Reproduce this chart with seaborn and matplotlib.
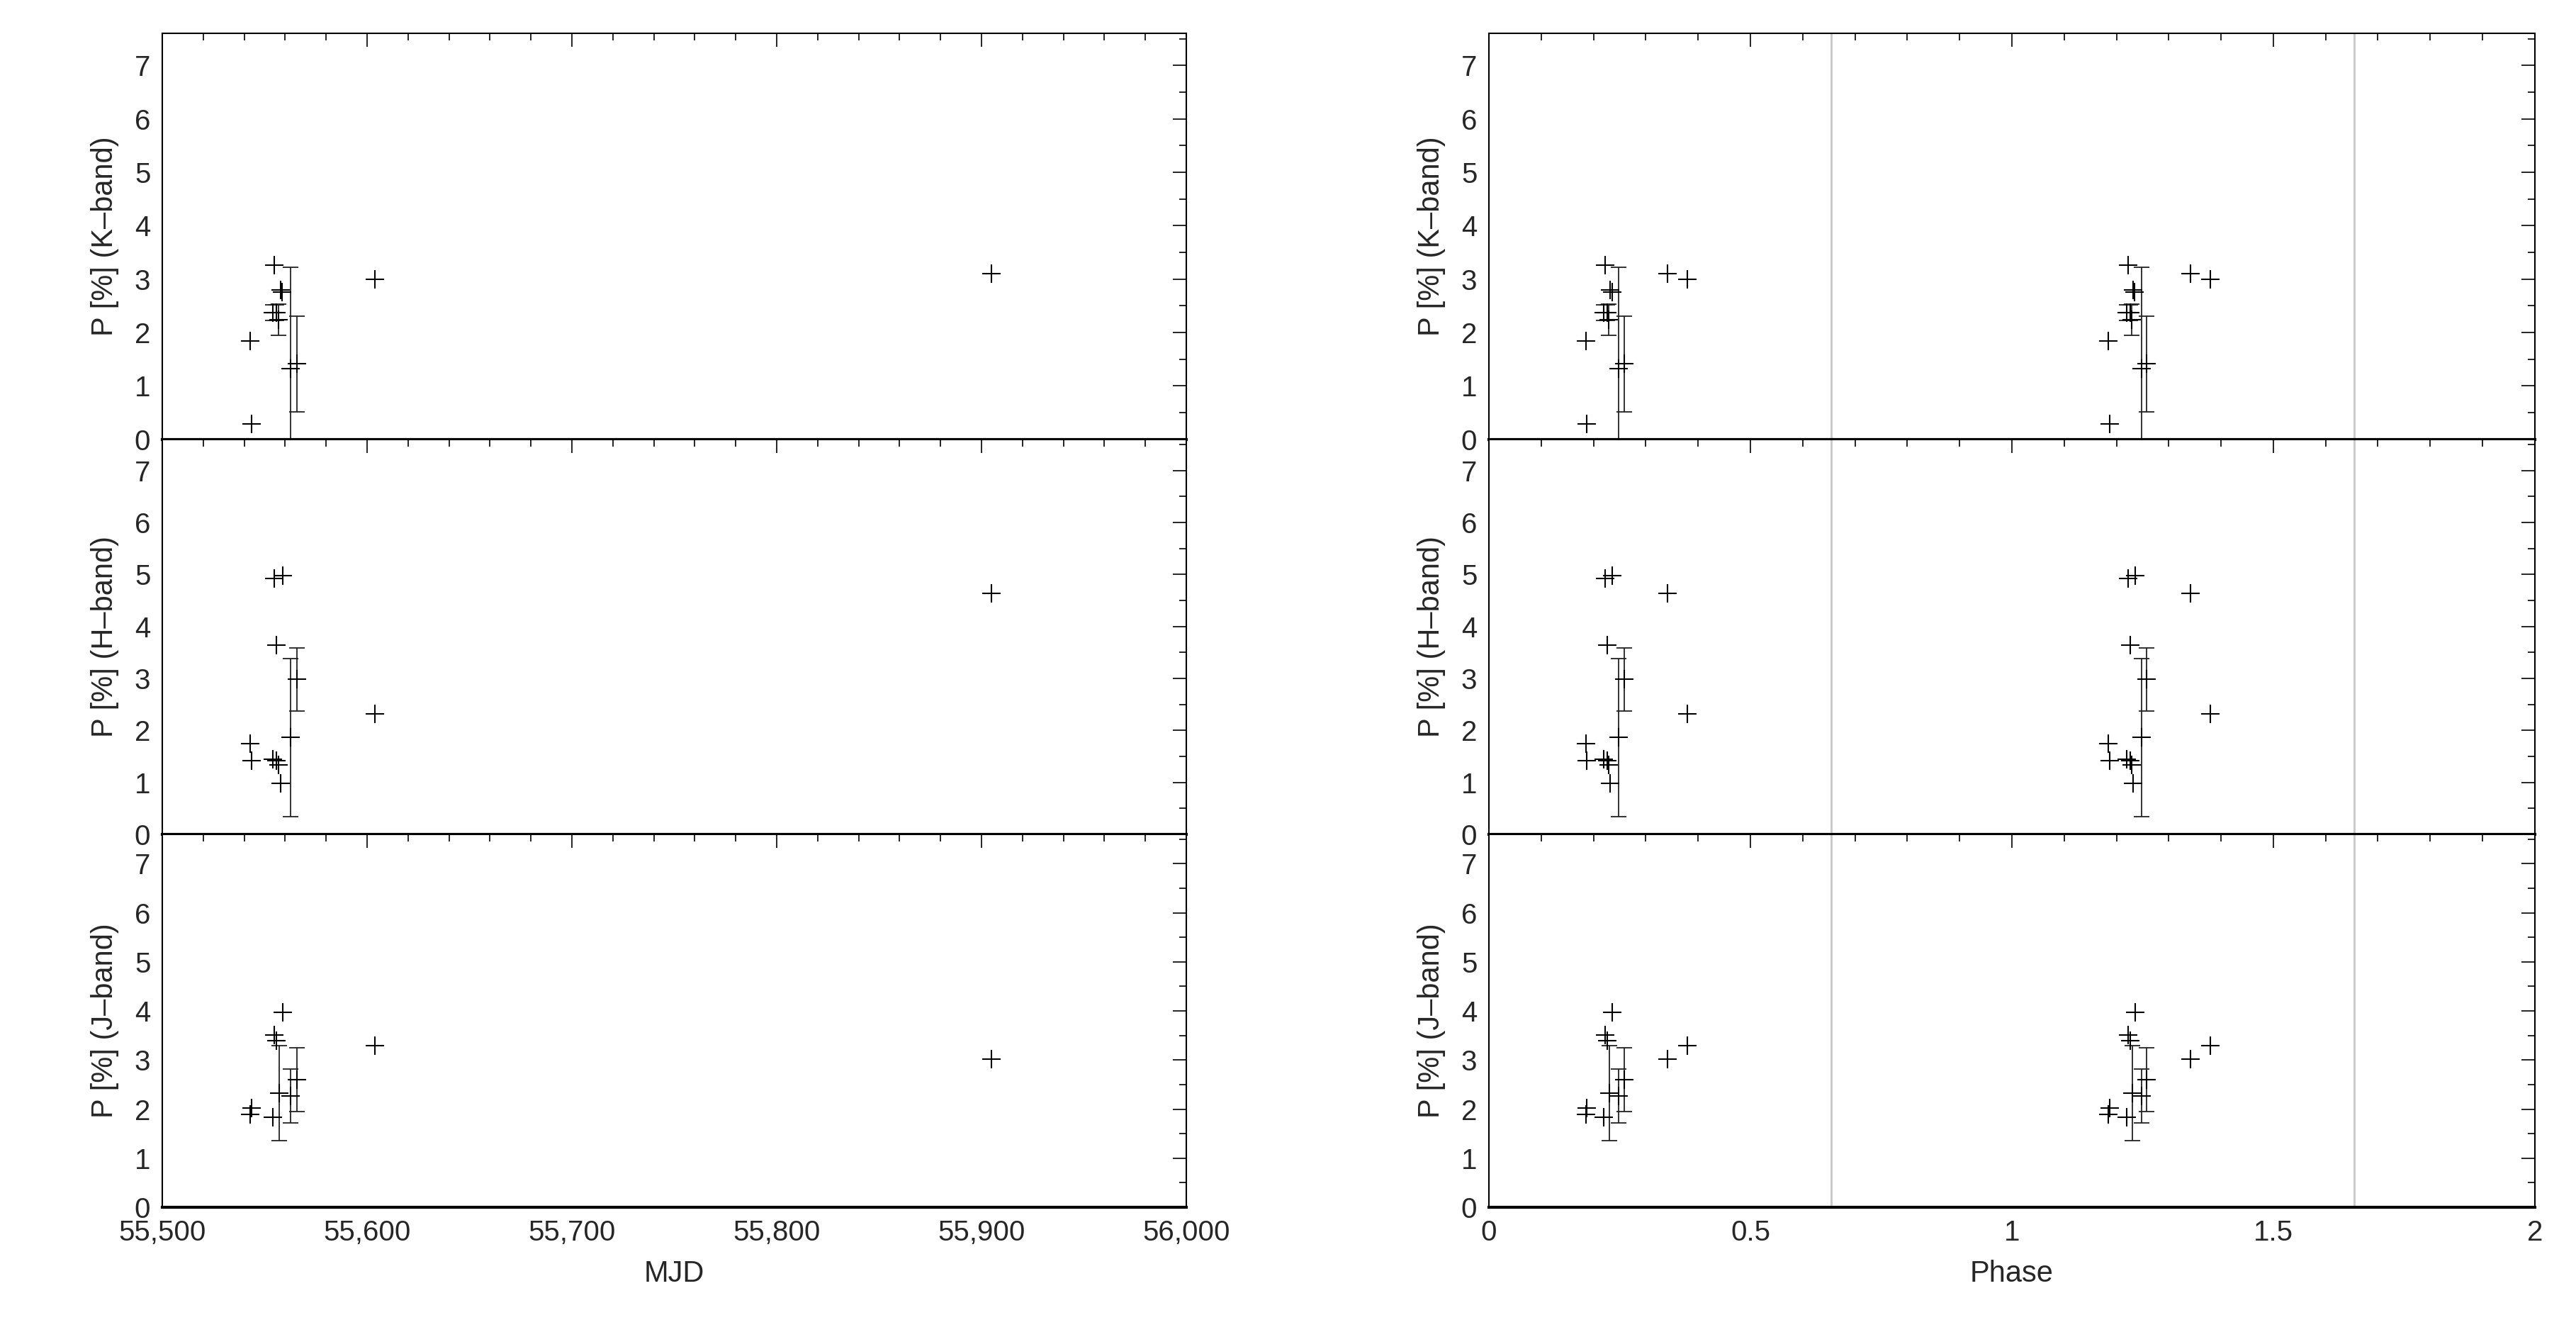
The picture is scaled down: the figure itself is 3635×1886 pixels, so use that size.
import numpy as np
import pandas as pd
import matplotlib
matplotlib.use("Agg")
import matplotlib.pyplot as plt
from matplotlib.ticker import MultipleLocator, FuncFormatter
import seaborn as sns

sns.set_theme(style="white")
plt.rcParams['font.family'] = ['Liberation Sans', 'DejaVu Sans']

period = 313.0
epoch = 55485.0

k_mjd = [55542.9, 55543.7, 55553.9, 55554.7, 55555.8, 55556.6, 55557.7, 55558.6, 55562.7, 55565.8, 55603.9, 55905.0]
k_p   = [1.84, 0.29, 2.37, 3.26, 2.37, 2.24, 2.80, 2.76, 1.32, 1.41, 2.99, 3.10]
k_err = [0, 0, 0.15, 0, 0.15, 0.29, 0, 0, 1.90, 0.90, 0, 0]

h_mjd = [55542.9, 55543.7, 55553.9, 55554.7, 55555.8, 55555.8, 55556.6, 55557.7, 55558.8, 55562.7, 55565.8, 55603.9, 55905.0]
h_p   = [1.74, 1.42, 1.44, 4.92, 3.64, 1.42, 1.33, 0.98, 4.98, 1.86, 2.98, 2.31, 4.63]
h_err = [0, 0, 0, 0, 0, 0, 0, 0, 0, 1.52, 0.61, 0, 0]

j_mjd = [55542.9, 55543.7, 55553.9, 55554.7, 55555.8, 55557.2, 55558.8, 55562.7, 55565.8, 55603.9, 55905.0]
j_p   = [1.89, 2.03, 1.83, 3.51, 3.39, 2.33, 3.97, 2.27, 2.60, 3.30, 3.02]
j_err = [0, 0, 0, 0, 0, 0.97, 0, 0.55, 0.65, 0, 0]

bands = [("K", k_mjd, k_p, k_err), ("H", h_mjd, h_p, h_err), ("J", j_mjd, j_p, j_err)]
phase_lines = [0.655, 1.655]

fig = plt.figure(figsize=(36.35, 18.86), dpi=100)
tops = [0.975, 0.6715, 0.376]
bots = [0.6715, 0.376, 0.097]
fs = 29

def style(ax):
    ax.set_ylim(0, 7.6)
    ax.yaxis.set_major_locator(MultipleLocator(1))
    ax.yaxis.set_minor_locator(MultipleLocator(0.5))
    ax.tick_params(which='both', direction='in', top=True, right=True, labelsize=fs, color='black', pad=12)
    ax.tick_params(which='major', length=14, width=1.2)
    ax.tick_params(which='minor', length=7, width=1.2)
    for s in ax.spines.values():
        s.set_color('black'); s.set_linewidth(1.5)
    ax.spines['bottom'].set_linewidth(3)

for i, (name, mjd, p, err) in enumerate(bands):
    df = pd.DataFrame({"mjd": mjd, "p": p, "err": err})
    df["phase"] = ((df["mjd"] - epoch) / period) % 1.0
    df2 = pd.concat([df, df.assign(phase=df["phase"] + 1)])
    for col, x0, x1, d in [(0, 0.063, 0.4605, df), (1, 0.578, 0.984, df2)]:
        ax = fig.add_axes([x0, bots[i], x1 - x0, tops[i] - bots[i]])
        xcol = "mjd" if col == 0 else "phase"
        if col == 1:
            for v in phase_lines:
                ax.axvline(v, color='#c8c8c8', lw=2, zorder=0)
        sns.scatterplot(data=d, x=xcol, y="p", marker='+', s=330, color='black', linewidth=1.5, ax=ax, zorder=3)
        e = d[d["err"] > 0]
        ax.errorbar(e[xcol], e["p"], yerr=e["err"], fmt='none', ecolor='#222222', elinewidth=1.3, capsize=8, capthick=1.3)
        style(ax)
        ax.set_ylabel(f"P [%] ({name}\u2013band)", fontsize=fs + 1, labelpad=16)
        if col == 0:
            ax.set_xlim(55500, 56000)
            ax.xaxis.set_major_locator(MultipleLocator(100))
            ax.xaxis.set_minor_locator(MultipleLocator(20))
            ax.xaxis.set_major_formatter(FuncFormatter(lambda v, pos: f"{int(v):,}"))
        else:
            ax.set_xlim(0, 2)
            ax.xaxis.set_major_locator(MultipleLocator(0.5))
            ax.xaxis.set_minor_locator(MultipleLocator(0.1))
            ax.xaxis.set_major_formatter(FuncFormatter(lambda v, pos: f"{v:g}"))
        if i < 2:
            ax.tick_params(labelbottom=False)
            ax.set_xlabel("")
        else:
            ax.set_xlabel("MJD" if col == 0 else "Phase", fontsize=fs + 1, labelpad=14)

fig.savefig("out.png", dpi=100, facecolor='white')
